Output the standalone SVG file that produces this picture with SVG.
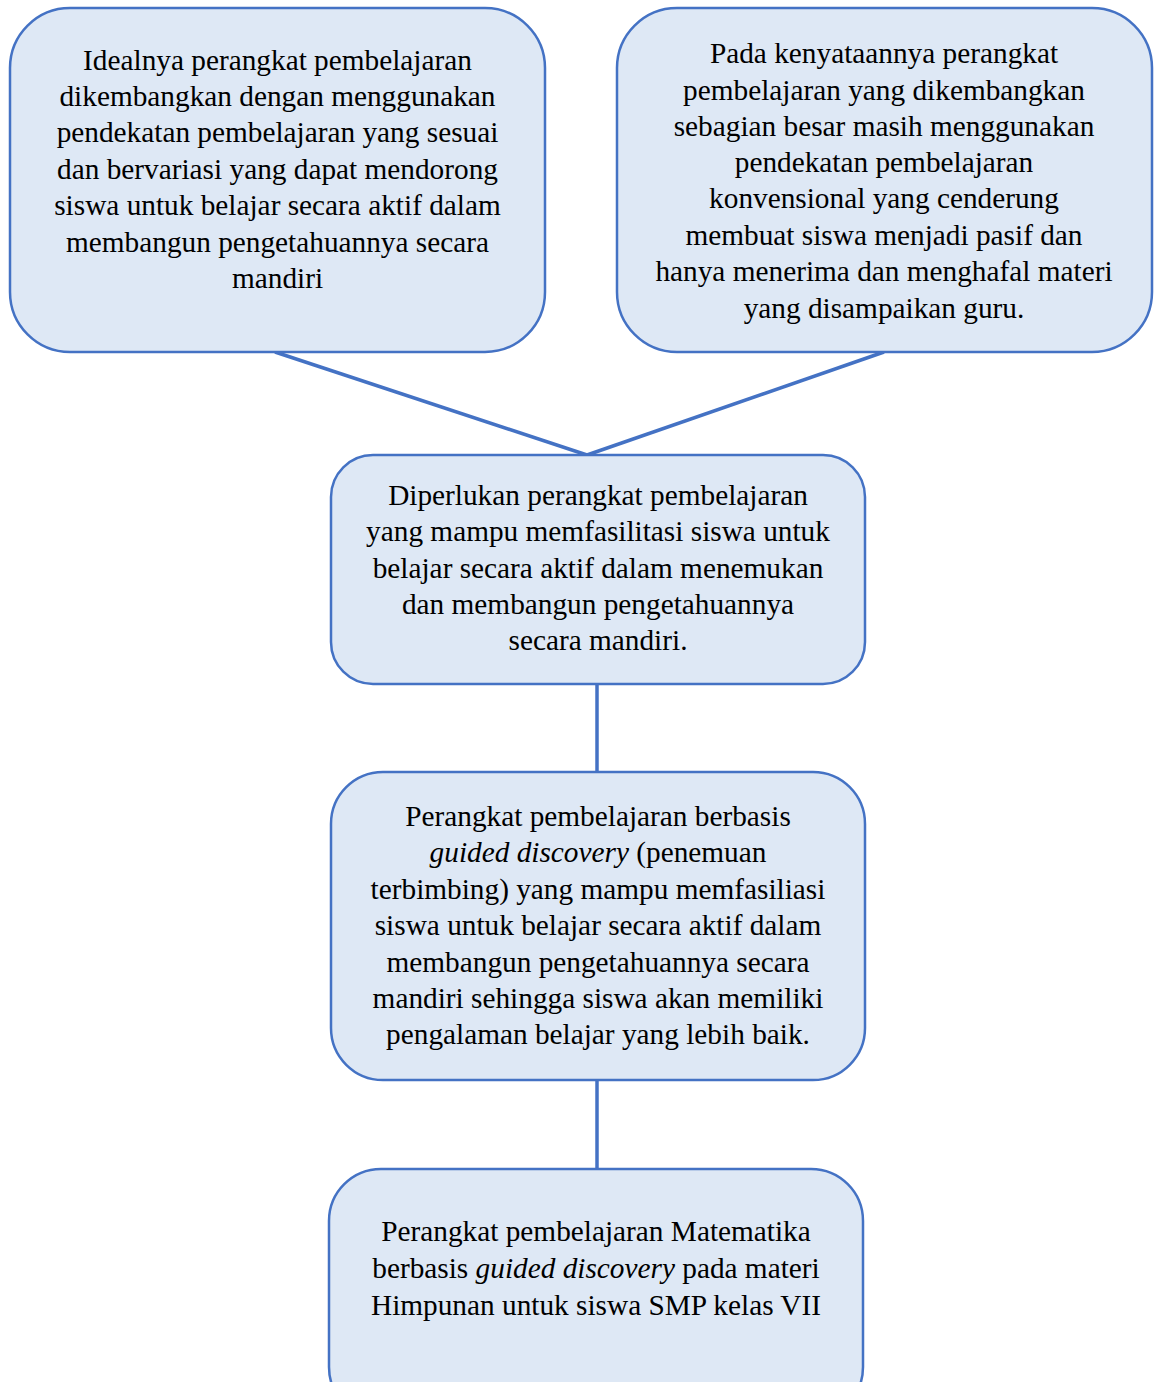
<svg xmlns="http://www.w3.org/2000/svg" width="1154" height="1382" viewBox="0 0 1154 1382">
<style>
.box{fill:#DEE8F5;stroke:#4472C4;stroke-width:2.5}
.t{font-family:'Liberation Serif','Times New Roman','DejaVu Serif',serif;font-size:29.3px;fill:#000;text-anchor:middle}
.i{font-style:italic}
.c{stroke:#4472C4;stroke-width:3.5;fill:none}
</style>
<rect width="1154" height="1382" fill="#fff"/>
<g id="connectors">
<line class="c" x1="275" y1="352" x2="587" y2="455"/>
<line class="c" x1="884" y1="352" x2="587" y2="455"/>
<line class="c" x1="597" y1="684" x2="597" y2="772"/>
<line class="c" x1="597" y1="1080" x2="597" y2="1169"/>
</g>
<g id="node1">
<rect class="box" x="10" y="8" width="535" height="344" rx="60"/>
<text class="t" x="277.5" y="70">Idealnya perangkat pembelajaran</text>
<text class="t" x="277.5" y="106">dikembangkan dengan menggunakan</text>
<text class="t" x="277.5" y="142">pendekatan pembelajaran yang sesuai</text>
<text class="t" x="277.5" y="179">dan bervariasi yang dapat mendorong</text>
<text class="t" x="277.5" y="215">siswa untuk belajar secara aktif dalam</text>
<text class="t" x="277.5" y="252">membangun pengetahuannya secara</text>
<text class="t" x="277.5" y="288">mandiri</text>
</g>
<g id="node2">
<rect class="box" x="617" y="8" width="535" height="344" rx="60"/>
<text class="t" x="884" y="63">Pada kenyataannya perangkat</text>
<text class="t" x="884" y="100">pembelajaran yang dikembangkan</text>
<text class="t" x="884" y="136">sebagian besar masih menggunakan</text>
<text class="t" x="884" y="172">pendekatan pembelajaran</text>
<text class="t" x="884" y="208">konvensional yang cenderung</text>
<text class="t" x="884" y="245">membuat siswa menjadi pasif dan</text>
<text class="t" x="884" y="281">hanya menerima dan menghafal materi</text>
<text class="t" x="884" y="318">yang disampaikan guru.</text>
</g>
<g id="node3">
<rect class="box" x="331" y="455" width="534" height="229" rx="42"/>
<text class="t" x="598" y="505">Diperlukan perangkat pembelajaran</text>
<text class="t" x="598" y="541">yang mampu memfasilitasi siswa untuk</text>
<text class="t" x="598" y="578">belajar secara aktif dalam menemukan</text>
<text class="t" x="598" y="614">dan membangun pengetahuannya</text>
<text class="t" x="598" y="650">secara mandiri.</text>
</g>
<g id="node4">
<rect class="box" x="331" y="772" width="534" height="308" rx="52"/>
<text class="t" x="598" y="826">Perangkat pembelajaran berbasis</text>
<text class="t" x="598" y="862"><tspan class="i">guided discovery</tspan> (penemuan</text>
<text class="t" x="598" y="899">terbimbing) yang mampu memfasiliasi</text>
<text class="t" x="598" y="935">siswa untuk belajar secara aktif dalam</text>
<text class="t" x="598" y="972">membangun pengetahuannya secara</text>
<text class="t" x="598" y="1008">mandiri sehingga siswa akan memiliki</text>
<text class="t" x="598" y="1044">pengalaman belajar yang lebih baik.</text>
</g>
<g id="node5">
<rect class="box" x="329" y="1169" width="534" height="250" rx="52"/>
<text class="t" x="596" y="1241">Perangkat pembelajaran Matematika</text>
<text class="t" x="596" y="1278">berbasis <tspan class="i">guided discovery</tspan> pada materi</text>
<text class="t" x="596" y="1315">Himpunan untuk siswa SMP kelas VII</text>
</g>
</svg>
